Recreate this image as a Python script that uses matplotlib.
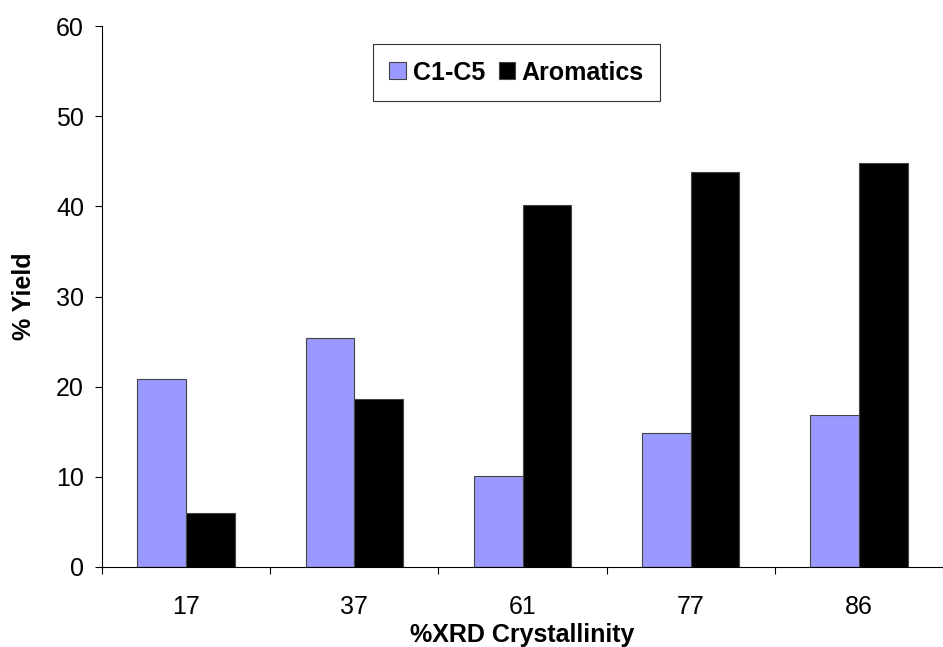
import matplotlib
matplotlib.use("Agg")
import matplotlib.pyplot as plt
import numpy as np

categories = ["17", "37", "61", "77", "86"]
c1_c5 = [20.9, 25.4, 10.1, 14.9, 16.9]
aromatics = [6.0, 18.6, 40.2, 43.8, 44.8]

plt.rcParams['font.family'] = ['Liberation Sans', 'DejaVu Sans']
FS = 18

fig = plt.figure(figsize=(9.43, 6.47), dpi=100)
ax = fig.add_axes([102/943, 80/647, 841/943, 541/647])

x = np.arange(len(categories))
w = 0.29
ax.bar(x - w/2, c1_c5, width=w, color='#9999FF', edgecolor='#444444', linewidth=0.8, label='C1-C5')
ax.bar(x + w/2, aromatics, width=w, color='#000000', edgecolor='#444444', linewidth=0.8, label='Aromatics')

ax.set_xlim(-0.5, -0.5 + 841/170)
ax.set_ylim(0, 60)
ax.set_yticks(np.arange(0, 61, 10))
ax.tick_params(axis='y', direction='out', length=5, width=0.8, labelsize=FS, pad=8)

ax.set_xticks(np.arange(len(categories) + 1) - 0.5)
ax.set_xticklabels([])
ax.tick_params(axis='x', which='major', direction='out', length=5, width=0.8)
ax.set_xticks(x, minor=True)
ax.set_xticklabels(categories, minor=True)
ax.tick_params(axis='x', which='minor', length=0, labelsize=FS, pad=20)

for s in ['top', 'right']:
    ax.spines[s].set_visible(False)
for s in ['left', 'bottom']:
    ax.spines[s].set_linewidth(0.8)

ax.set_xlabel('%XRD Crystallinity', fontsize=FS, fontweight='bold', labelpad=3)
ax.set_ylabel('% Yield', fontsize=FS, fontweight='bold', labelpad=14)

leg = ax.legend(loc='center', bbox_to_anchor=(0.493, 0.914), ncol=2,
                prop={'weight': 'bold', 'size': FS}, frameon=True, fancybox=False,
                edgecolor='black', handlelength=0.65, handleheight=0.65,
                handletextpad=0.28, columnspacing=0.55, borderpad=0.65)
leg.get_frame().set_linewidth(0.8)

fig.savefig('out.png', dpi=100)
